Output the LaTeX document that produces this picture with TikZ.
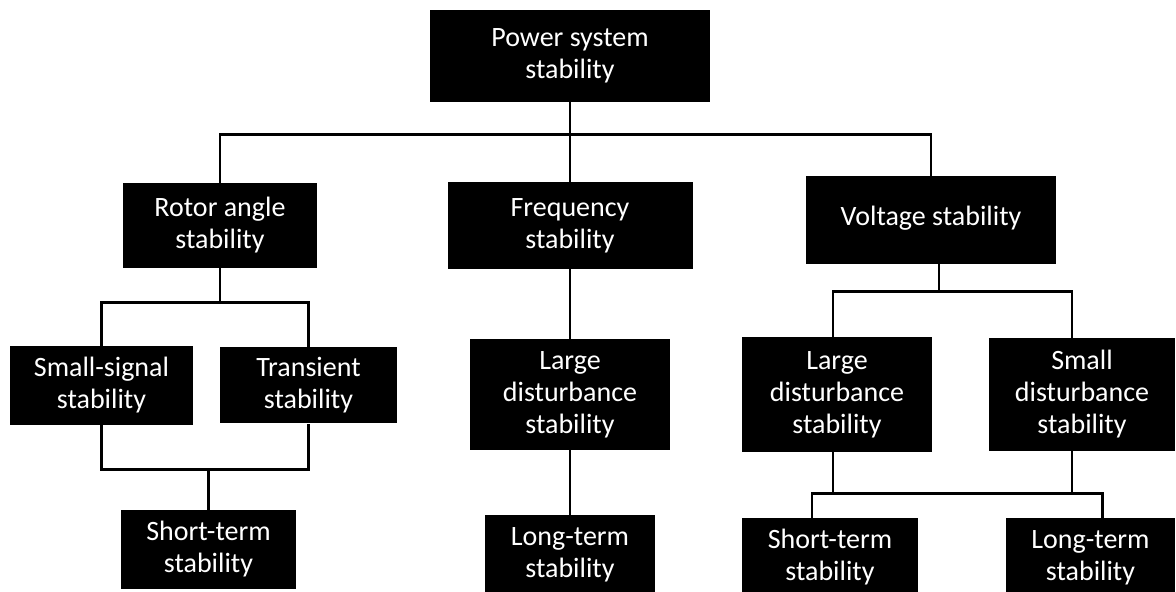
\documentclass[tikz,border=0pt]{standalone}
\usepackage{fontspec}
\setmainfont{Carlito}
\usetikzlibrary{positioning}

\tikzset{
  blk/.style={rectangle, fill=black, text=white, align=center, inner sep=2pt,
    font=\fontsize{14}{16}\selectfont},
  link/.style={line width=1.4pt, line join=miter}
}

\begin{document}
\begin{tikzpicture}
	[on grid]
   \useasboundingbox (0,0) rectangle (588pt,-296pt);
   % top level
   \node[blk, minimum width=140pt, minimum height=46pt] (pss) at (285pt,-28pt) {Power system\\stability};
   \node[blk, minimum width=122.5pt, minimum height=43.5pt] (freq) [below=84.75pt of pss] {Frequency\\stability};
   \node[blk, minimum width=97pt, minimum height=42.5pt] (rotor) [left=175pt of freq] {Rotor angle\\stability};
   \node[blk, minimum width=125pt, minimum height=44pt] (volt) [above right=2.75pt and 180.5pt of freq] {\raisebox{4pt}{Voltage stability}};
   % rotor angle branch
   \node[blk, minimum width=91.5pt, minimum height=39.5pt] (ssig) [below left=80pt and 59.25pt of rotor] {Small-signal\\stability};
   \node[blk, minimum width=88.5pt, minimum height=38pt] (trans) [right=103.5pt of ssig] {Transient\\stability};
   \node[blk, minimum width=87.5pt, minimum height=39.5pt] (shortL) [below right=82pt and 53.5pt of ssig] {Short-term\\stability};
   % frequency branch
   \node[blk, minimum width=100pt, minimum height=55.5pt] (largeM) [below=84.5pt of freq] {Large\\disturbance\\stability};
   \node[blk, minimum width=85pt, minimum height=39.5pt] (longM) [below=80pt of largeM] {Long-term\\stability};
   % voltage branch
   \node[blk, minimum width=95pt, minimum height=57.5pt] (largeR) [below left=87.25pt and 47pt of volt] {Large\\disturbance\\stability};
   \node[blk, minimum width=93pt, minimum height=56.5pt] (smallD) [right=122.5pt of largeR] {Small\\disturbance\\stability};
   \node[blk, minimum width=88pt, minimum height=39.5pt] (shortR) [below left=81.5pt and 3.5pt of largeR] {Short-term\\stability};
   \node[blk, minimum width=84.5pt, minimum height=39.5pt] (longR) [right=130.25pt of shortR] {Long-term\\stability};

   \draw[link] (pss.south) -- ++(0,-16pt) coordinate (b1);
   \draw[link] (b1) -| (rotor.north);
   \draw[link] (b1) -| (volt.north);
   \draw[link] (b1) -- (freq.north);

   \draw[link] (rotor.south) -- ++(0,-17pt) coordinate (b2);
   \draw[link] (b2) -| (ssig.north);
   \draw[link] (b2) -| (trans.north);
   \draw[link] (ssig.south) -- ++(0,-22pt) -| (trans.south);
   \draw[link] (shortL.north) -- ++(0,20.5pt);

   \draw[link] (freq.south) -- (largeM.north);
   \draw[link] (largeM.south) -- (longM.north);

   \draw[link] ([xshift=4pt]volt.south) -- ++(0,-13.5pt) coordinate (b4);
   \draw[link] (b4) -| ([xshift=-2pt]largeR.north);
   \draw[link] (b4) -| ([xshift=-5pt]smallD.north);
   \draw[link] ([xshift=-2pt]largeR.south) -- ++(0,-20.5pt) -| ([xshift=-5pt]smallD.south);
   \draw[link] ([xshift=-9pt]shortR.north) -- ++(0,12pt) -| ([xshift=6pt]longR.north);
\end{tikzpicture}
\end{document}
